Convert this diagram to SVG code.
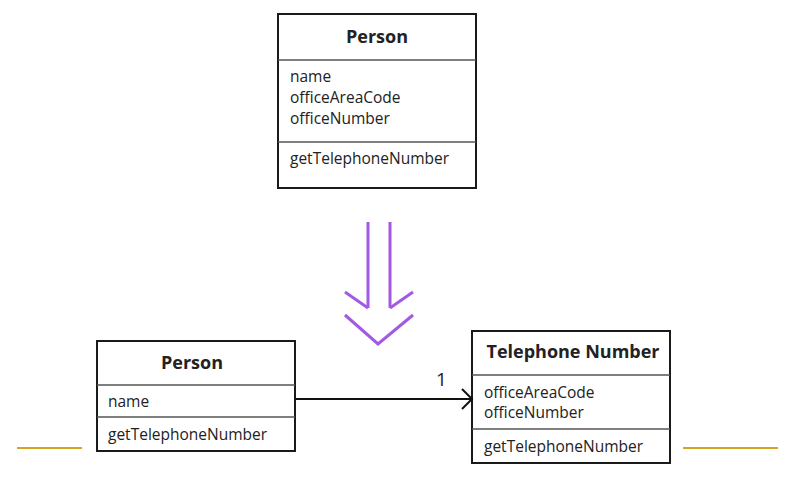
<svg xmlns="http://www.w3.org/2000/svg" width="793" height="482" viewBox="0 0 793 482">
<style>
.box{fill:#fff;stroke:#1a1a1a;stroke-width:2}
.div{stroke:#555;stroke-width:1.5}
text{font-family:"Open Sans","Liberation Sans",sans-serif;fill:#222;font-size:15.5px}
.t{font-weight:bold;font-size:18px;text-anchor:middle}
.p{fill:none;stroke:#a259e6;stroke-width:3}
.g{stroke:#d4a520;stroke-width:2}
</style>
<g id="person-top">
<rect class="box" x="278" y="14" width="198" height="174"/>
<line class="div" x1="278" y1="60" x2="476" y2="60"/>
<line class="div" x1="278" y1="142" x2="476" y2="142"/>
<text class="t" x="377" y="43">Person</text>
<text x="290" y="82">name</text>
<text x="290" y="103">officeAreaCode</text>
<text x="290" y="124">officeNumber</text>
<text x="290" y="164">getTelephoneNumber</text>
</g>
<g id="transform-arrow">
<line class="p" x1="368" y1="222" x2="368" y2="308"/>
<line class="p" x1="390" y1="222" x2="390" y2="308"/>
<polyline class="p" points="345,292 368,308"/>
<polyline class="p" points="413,292 390,308"/>
<polyline class="p" points="345,315 378,344 413,315"/>
</g>
<g id="person-bottom">
<rect class="box" x="97" y="341" width="198" height="110"/>
<line class="div" x1="97" y1="385" x2="295" y2="385"/>
<line class="div" x1="97" y1="417" x2="295" y2="417"/>
<text class="t" x="192" y="369">Person</text>
<text x="108" y="407">name</text>
<text x="108" y="440">getTelephoneNumber</text>
</g>
<g id="telephone-number">
<rect class="box" x="472" y="331" width="198" height="132"/>
<line class="div" x1="472" y1="375" x2="670" y2="375"/>
<line class="div" x1="472" y1="429" x2="670" y2="429"/>
<text class="t" x="573" y="358">Telephone Number</text>
<text x="484" y="398">officeAreaCode</text>
<text x="484" y="418">officeNumber</text>
<text x="484" y="452">getTelephoneNumber</text>
</g>
<g id="connectors">
<line x1="295" y1="399" x2="471" y2="399" stroke="#111" stroke-width="2"/>
<polyline points="462,389 472,399 462,409" fill="none" stroke="#111" stroke-width="2"/>
<text x="436" y="386" style="font-size:19px">1</text>
</g>
<line class="g" x1="17" y1="448" x2="82" y2="448"/>
<line class="g" x1="683" y1="448" x2="778" y2="448"/>
</svg>
